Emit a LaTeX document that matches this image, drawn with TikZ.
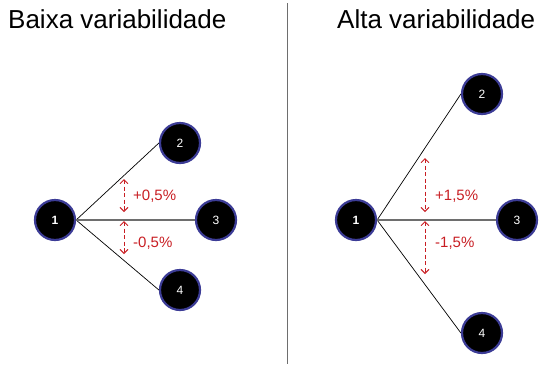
\documentclass[tikz,border=0pt]{standalone}
\usepackage{fontspec}
\setmainfont{Liberation Sans}
\usetikzlibrary{arrows.meta}
\definecolor{nodeblue}{RGB}{60,60,150}
\definecolor{varred}{RGB}{200,30,35}
\definecolor{divgray}{RGB}{110,110,110}
\tikzset{
  vnode/.style={circle,fill=black,draw=nodeblue,line width=2.2pt,minimum size=40pt,inner sep=0pt,text=white,font=\fontsize{12}{13}\selectfont},
  title/.style={anchor=base west,inner sep=0pt,font=\fontsize{26}{30}\selectfont},
  thinedge/.style={draw=black,line width=0.7pt},
  midedge/.style={draw=divgray,line width=1.4pt},
  vararrow/.style={draw=varred,line width=0.9pt,dash pattern=on 4pt off 2.5pt,{Straight Barb[length=4pt,width=8pt]}-{Straight Barb[length=4pt,width=8pt]}},
  varlabel/.style={anchor=west,inner sep=0pt,text=varred,font=\fontsize{15}{18}\selectfont}
}
\begin{document}
\begin{tikzpicture}[x=1pt,y=-1pt]
\useasboundingbox (0,0) rectangle (541,365);
% titles
\node[title] (t1) at (8,28) {Baixa variabilidade};
\node[title] (t2) at (337,28) {Alta variabilidade};
% divider
\coordinate (d1) at (287,3);
\coordinate (d2) at (287,364);
\draw[divgray,line width=1pt] (d1) -- (d2);
% left graph
\node[vnode,font=\fontsize{12}{13}\selectfont\bfseries] (a1) at (55,220) {1};
\node[vnode] (a2) at (180,143) {2};
\node[vnode] (a3) at (216,220) {3};
\node[vnode] (a4) at (180,290) {4};
\draw[thinedge] (a1.east) -- (a2.west);
\draw[thinedge] (a1.east) -- (a4.west);
\draw[midedge] (a1.east) -- (a3.west);
\coordinate (au1) at (124,179);
\coordinate (au2) at (124,212);
\coordinate (al1) at (124,221);
\coordinate (al2) at (124,254);
\draw[vararrow] (au1) -- (au2);
\draw[vararrow] (al1) -- (al2);
\node[varlabel] (la1) at (133,196) {+0,5\%};
\node[varlabel] (la2) at (133,243) {-0,5\%};
% right graph
\node[vnode,font=\fontsize{12}{13}\selectfont\bfseries] (b1) at (356,220) {1};
\node[vnode] (b2) at (482,94) {2};
\node[vnode] (b3) at (517,220) {3};
\node[vnode] (b4) at (482,333) {4};
\draw[thinedge] (b1.east) -- (b2.west);
\draw[thinedge] (b1.east) -- (b4.west);
\draw[midedge] (b1.east) -- (b3.west);
\coordinate (bu1) at (425,158);
\coordinate (bu2) at (425,212);
\coordinate (bl1) at (425,221);
\coordinate (bl2) at (425,274);
\draw[vararrow] (bu1) -- (bu2);
\draw[vararrow] (bl1) -- (bl2);
\node[varlabel] (lb1) at (435,196) {+1,5\%};
\node[varlabel] (lb2) at (435,243) {-1,5\%};
\end{tikzpicture}
\end{document}
